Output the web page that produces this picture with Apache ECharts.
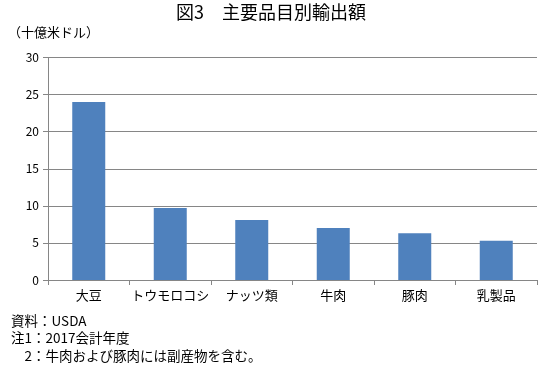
<!DOCTYPE html>
<html><head><meta charset="utf-8">
<script src="https://cdn.jsdelivr.net/npm/echarts@6/dist/echarts.min.js"></script>
<style>html,body{margin:0;padding:0;background:#fff}#c{width:553px;height:372px}</style>
</head><body><div id="c"></div>
<script>
const categories = ['大豆','トウモロコシ','ナッツ類','牛肉','豚肉','乳製品'];
const values = [24.0, 9.7, 8.1, 7.0, 6.3, 5.3];
const yTicks = [0,5,10,15,20,25,30];
const titleText = '図3　主要品目別輸出額';
const unitText = '（十億米ドル）';
const notes = ['資料：USDA','注1：2017会計年度','　2：牛肉および豚肉には副産物を含む。'];
const F = '"Noto Sans CJK JP", sans-serif';
const chart = echarts.init(document.getElementById('c'));
chart.setOption({
  animation:false,
  backgroundColor:'#fff',
  graphic:[
    {type:'text',x:271,y:3,style:{text:titleText,font:'18px '+F,fill:'#000',textAlign:'center'}},
    {type:'text',x:8,y:26,style:{text:unitText,font:'13px '+F,fill:'#000'}},
    {type:'text',x:11,y:314,style:{text:notes[0],font:'13.5px '+F,fill:'#000'}},
    {type:'text',x:11,y:331,style:{text:notes[1],font:'13.5px '+F,fill:'#000'}},
    {type:'text',x:11,y:349,style:{text:notes[2],font:'13.5px '+F,fill:'#000'}}
  ],
  grid:{left:48,right:16,top:57.5,bottom:92,containLabel:false},
  xAxis:{type:'category',data:categories,
    axisLine:{lineStyle:{color:'#868686',width:1}},
    axisTick:{show:true,length:5,lineStyle:{color:'#868686'}},
    axisLabel:{interval:0,fontFamily:F,fontSize:13,color:'#000',margin:9}},
  yAxis:{type:'value',min:yTicks[0],max:yTicks[yTicks.length-1],interval:5,
    axisLine:{show:true,lineStyle:{color:'#868686'}},
    axisTick:{show:true,length:5,lineStyle:{color:'#868686'}},
    splitLine:{lineStyle:{color:'#868686',width:1}},
    axisLabel:{fontFamily:F,fontSize:12,color:'#000',margin:9}},
  series:[{type:'bar',data:values,barWidth:33,itemStyle:{color:'#4f81bd'}}]
});
</script></body></html>
